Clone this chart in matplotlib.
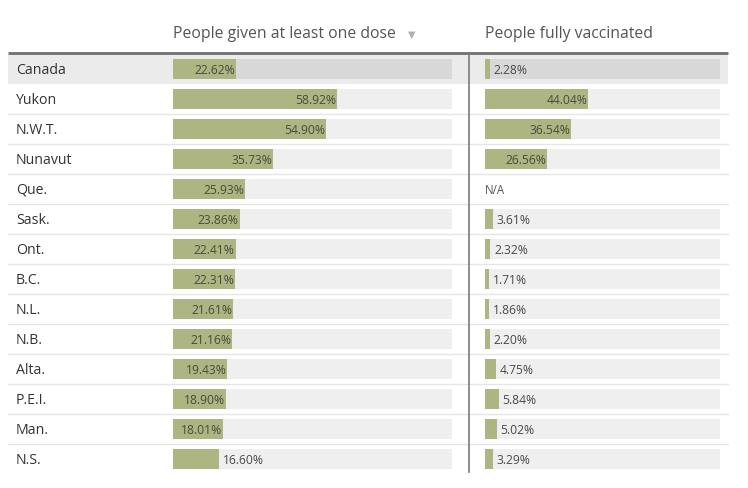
import matplotlib
matplotlib.use("Agg")
import matplotlib.pyplot as plt
from matplotlib.patches import Rectangle

plt.rcParams['font.family'] = ['Open Sans', 'DejaVu Sans']

# data
regions = ['Canada', 'Yukon', 'N.W.T.', 'Nunavut', 'Que.', 'Sask.', 'Ont.',
           'B.C.', 'N.L.', 'N.B.', 'Alta.', 'P.E.I.', 'Man.', 'N.S.']
one_dose = [22.62, 58.92, 54.90, 35.73, 25.93, 23.86, 22.41,
            22.31, 21.61, 21.16, 19.43, 18.90, 18.01, 16.60]
fully = [2.28, 44.04, 36.54, 26.56, None, 3.61, 2.32,
         1.71, 1.86, 2.20, 4.75, 5.84, 5.02, 3.29]
headers = ['People given at least one dose', 'People fully vaccinated']

W, H = 748, 488
TOP = 54          # top of first row (px)
ROW = 30          # row height (px)
n = len(regions)
BAR_GREEN = '#adb583'

fig = plt.figure(figsize=(W / 100, H / 100), dpi=100)
fig.patch.set_facecolor('white')

# background axes in pixel units for the table decoration
bg = fig.add_axes([0, 0, 1, 1])
bg.set_xlim(0, W)
bg.set_ylim(H, 0)
bg.axis('off')

# highlighted Canada row
bg.add_patch(Rectangle((8, TOP), 720, ROW, facecolor='#ebebeb', edgecolor='none'))
# row separators
for i in range(2, n):
    y = TOP + i * ROW - 0.5
    bg.plot([8, 728], [y, y], color='#e6e6e6', lw=1)
# header rule and column divider
bg.plot([8, 728], [TOP - 1, TOP - 1], color='#707070', lw=2, solid_capstyle='butt')
bg.plot([469, 469], [TOP - 1, TOP + n * ROW - 2], color='#7a7a7a', lw=1.2)

# header texts
bg.text(173, 34, headers[0], fontsize=11.3, color='#555555', va='center', ha='left')
bg.text(412, 35, '\u25bc', fontsize=7, color='#b0b0b0', va='center', ha='center',
        family=['DejaVu Sans'])
bg.text(485, 34, headers[1], fontsize=11.3, color='#555555', va='center', ha='left')

# row labels
for i, r in enumerate(regions):
    bg.text(16, TOP + i * ROW + ROW / 2 + 1.5, r, fontsize=10.2, color='#333333',
            va='center', ha='left')


def bar_axes(x0, x1):
    ax = fig.add_axes([x0 / W, 1 - (TOP + n * ROW) / H, (x1 - x0) / W, n * ROW / H])
    ax.set_xlim(0, 100)
    ax.set_ylim(n - 0.5, -0.5)
    ax.axis('off')
    ax.patch.set_alpha(0)
    return ax


def draw_column(ax, values, px_width):
    for i, v in enumerate(values):
        if v is None:
            ax.text(0, i + 0.05, 'N/A', fontsize=8.3, color='#555555', va='center', ha='left')
            continue
        track = '#d8d8d8' if i == 0 else '#efefef'
        ax.barh(i, 100, height=20 / ROW, color=track, linewidth=0)
        ax.barh(i, v, height=20 / ROW, color=BAR_GREEN, linewidth=0)
        label = f'{v:.2f}%'
        if v / 100 * px_width > 50:
            ax.text(v - 0.8 * 100 / px_width, i + 0.05, label, fontsize=8.7,
                    color='#4a4a3a', va='center', ha='right')
        else:
            ax.text(v + 3.5 * 100 / px_width, i + 0.05, label, fontsize=8.7,
                    color='#4a4a4a', va='center', ha='left')


ax1 = bar_axes(173, 452)
draw_column(ax1, one_dose, 452 - 173)
ax2 = bar_axes(485, 720)
draw_column(ax2, fully, 720 - 485)

fig.savefig('out.png', dpi=100, facecolor='white')
